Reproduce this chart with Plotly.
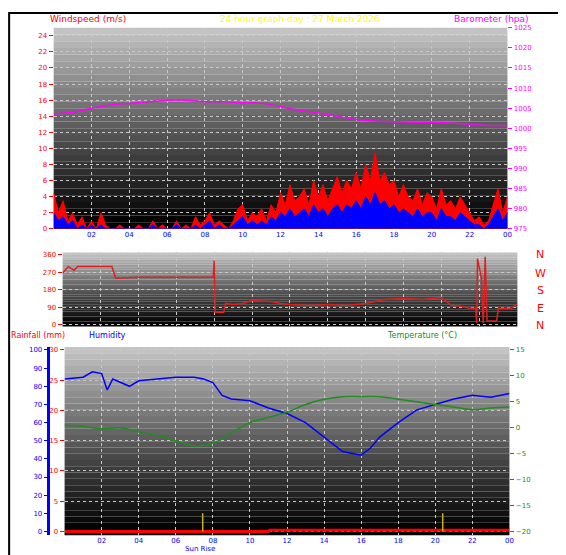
import plotly.graph_objects as go

W, H = 566, 555
def px(v): return v / W
def py(v): return 1 - v / H

hours_q = [i * 0.25 for i in range(97)]
gust = [4.5,2,3.5,1,2,0.5,1.5,0, 1,0,2,0.5,0,0,0.5,0, 0,0,0.5,0,0,1,0,0.5,
        0,0,1,0,0.5,0,1.5,0.5, 1,2,0.5,1,0.5,0,1,2.5, 3,1,2,1.5,2.5,1,3,2,
        4.5,3,5.5,3.5,4,5,3,6, 4,5.5,3.5,5,6.5,4.5,6,5, 7,5,8,6,9.5,6,7,5.5,
        6,4,5.5,4,3.5,5,3,4.5, 4,2.5,5,3,3.5,2.5,4,3, 2,1,1.5,0.5,1,3,5,2, 4]
avg = [2,1,1.5,0.5,1,0,0.5,0, 0.5,0,0.5,0,0,0,0,0, 0,0,0,0,0,0.5,0,0,
       0,0,0.5,0,0,0,0.5,0, 0.5,1,0,0.5,0,0,0.5,1, 1.5,0.5,1,0.5,1,0.5,1.5,1,
       2,1.5,2.5,1.5,2,2.5,1.5,3, 2,2.5,1.5,2.5,3,2,3,2.5, 3.5,2.5,4,3,4.5,3,3.5,2.5,
       3,2,2.5,2,1.5,2.5,1.5,2, 2,1,2.5,1.5,1.5,1,2,1.5, 1,0.5,0.5,0,0.5,1.5,2.5,1, 2]
hours_h = list(range(25))
baro = [1003.6,1004,1005,1005.8,1006.2,1006.6,1007,1007,1006.6,1006.6,1006.4,1006.2,1005.4,
        1004.5,1003.8,1003,1002.2,1001.8,1001.6,1001.5,1001.5,1001.3,1001,1000.7,1000.7]
dir_t = [0,0.3,0.6,0.8,2.6,2.8,4,7.95,8.0,8.05,8.5,8.6,9,9.5,10,11,11.5,12,13,14,15,16,17,18,19,20,20.5,21,21.5,21.8,21.85,21.9,22.1,22.2,22.3,22.4,22.9,23,23.7,24]
dir_v = [265,300,280,300,300,240,245,245,330,65,65,110,105,110,125,120,110,105,100,105,100,110,130,135,130,140,100,95,85,85,10,340,240,10,350,20,20,85,85,110]
hum_t = [0,1,1.5,2,2.3,2.6,3.5,4,5,6,7,7.5,8,8.5,9,10,11,12,13,14,15,16,16.5,17,18,19,20,21,22,23,24]
hum = [84,85,88,87,78,84,80,83,84,85,85,84,82,75,73,72,68,65,60,52,44,42,46,52,60,67,70,73,75,74,76]
temp = [0.5,0.3,-0.2,0,-0.8,-1.5,-2.5,-3.5,-3,-1,1,2,3,4.5,5.5,6,6,6,5.5,5,4.5,4,3.5,3.8,4]
rain_t = [0,11,11.05,24]
rain = [0,0,0.2,0.2]
sun_t = [7.45, 20.4]
tickv = list(range(2, 25, 2))
tickt = ["%02d" % (h % 24) for h in tickv]

fig = go.Figure()
fig.add_trace(go.Scatter(x=hours_q, y=gust, fill="tozeroy", mode="lines", line=dict(color="red", width=1), fillcolor="red", xaxis="x", yaxis="y"))
fig.add_trace(go.Scatter(x=hours_q, y=avg, fill="tozeroy", mode="lines", line=dict(color="blue", width=1), fillcolor="blue", xaxis="x", yaxis="y"))
fig.add_trace(go.Scatter(x=hours_h, y=baro, mode="lines", line=dict(color="#ff00ff", width=1.5, shape="spline"), xaxis="x", yaxis="y2"))
fig.add_trace(go.Scatter(x=dir_t, y=dir_v, mode="lines", line=dict(color="#e02020", width=1.5), xaxis="x2", yaxis="y3"))
fig.add_trace(go.Scatter(x=hum_t, y=hum, mode="lines", line=dict(color="blue", width=1.5), xaxis="x3", yaxis="y4"))
fig.add_trace(go.Scatter(x=hours_h, y=temp, mode="lines", line=dict(color="#228b22", width=1.5, shape="spline"), xaxis="x3", yaxis="y6"))
fig.add_trace(go.Scatter(x=rain_t, y=rain, mode="lines", line=dict(color="red", width=3), xaxis="x3", yaxis="y5"))
for s in sun_t:
    fig.add_trace(go.Scatter(x=[s, s], y=[0, 3], mode="lines", line=dict(color="#c8b400", width=1.5), xaxis="x3", yaxis="y5"))

grid = dict(showgrid=True, gridcolor="#c8c8c8", griddash="dot", gridwidth=1, zeroline=False)
tf = dict(family="DejaVu Sans", size=7)
lay = dict(
    width=W, height=H, margin=dict(l=0, r=0, t=0, b=0), paper_bgcolor="white", plot_bgcolor="rgba(0,0,0,0)",
    showlegend=False,
    xaxis=dict(domain=[px(46), px(503)], range=[0, 24], tickvals=tickv, ticktext=tickt, tickfont=dict(tf, color="blue"), anchor="y", ticks="", **grid),
    yaxis=dict(domain=[py(220), py(16)], range=[0, 25], dtick=2, tickfont=dict(tf, color="red"), ticks="outside", ticklen=4, tickcolor="red", **grid),
    yaxis2=dict(overlaying="y", side="right", range=[975, 1025], dtick=5, tickfont=dict(tf, color="#ff00ff"), ticks="outside", ticklen=4, tickcolor="#ff00ff", showgrid=False, zeroline=False, anchor="x"),
    xaxis2=dict(domain=[px(55), px(513)], range=[0, 24], dtick=2, showticklabels=False, anchor="y3", **grid),
    yaxis3=dict(domain=[py(319), py(244)], range=[-8, 372], tickvals=[0, 90, 180, 270, 360], tickfont=dict(tf, color="red"), ticks="outside", ticklen=4, tickcolor="red", anchor="x2", **grid),
    xaxis3=dict(domain=[px(57), px(505)], range=[0, 24], tickvals=tickv, ticktext=tickt, tickfont=dict(tf, color="blue"), anchor="y5", ticks="", **grid),
    yaxis4=dict(domain=[py(531), py(340)], range=[-2.15, 101.6], dtick=10, tickfont=dict(tf, color="blue"), ticks="outside", ticklen=3, tickcolor="blue",
                showline=True, linecolor="blue", linewidth=3, anchor="free", position=px(40), overlaying="y5", showgrid=False, zeroline=False),
    yaxis5=dict(domain=[py(531), py(340)], range=[-0.645, 30.48], dtick=5, tickfont=dict(tf, color="red"), ticks="outside", ticklen=4, tickcolor="red", anchor="x3", **grid),
    yaxis6=dict(overlaying="y5", side="right", anchor="x3", range=[-20.75, 15.56], dtick=5, tickfont=dict(tf, color="#228b22"), ticks="outside", ticklen=4, tickcolor="#228b22", showgrid=False, zeroline=False),
)
fig.update_layout(**lay)

shapes = []
N = 30
for xr, yr in [("x domain", "y domain"), ("x2 domain", "y3 domain"), ("x3 domain", "y5 domain")]:
    for i in range(N):
        c = int(195 * (1 - i / (N - 1)) ** 1.1)
        shapes.append(dict(type="rect", xref=xr, yref=yr, x0=0, x1=1, y0=1 - (i + 1) / N, y1=1 - i / N,
                           fillcolor="rgb(%d,%d,%d)" % (c, c, c), line=dict(width=0), layer="below"))
shapes.append(dict(type="rect", xref="paper", yref="paper", x0=0.002, x1=0.998, y0=0.002, y1=0.998, line=dict(color="black", width=2)))
fig.update_layout(shapes=shapes)

af = "DejaVu Sans"
ann = [
    dict(x=px(40), y=py(7), text="Windspeed (m/s)", color="red", xanchor="left", size=9),
    dict(x=px(294), y=py(7), text="24 hour graph day : 27 March 2026", color="yellow", xanchor="center", size=9),
    dict(x=px(527), y=py(7), text="Barometer (hpa)", color="#ff00ff", xanchor="right", size=9),
    dict(x=px(1), y=py(328), text="Rainfall (mm)", color="red", xanchor="left", size=8),
    dict(x=px(80), y=py(328), text="Humidity", color="blue", xanchor="left", size=8),
    dict(x=px(380), y=py(328), text="Temperature (°C)", color="#228b22", xanchor="left", size=8),
    dict(x=px(193), y=py(545), text="Sun Rise", color="blue", xanchor="center", size=7),
]
for n, (lbl, yy) in enumerate(zip("NWSEN", [246, 265, 283, 301, 318])):
    ann.append(dict(x=px(536), y=py(yy), text=lbl, color="red", xanchor="center", size=11))
fig.update_layout(annotations=[dict(xref="paper", yref="paper", x=a["x"], y=a["y"], text=a["text"], showarrow=False,
                                    xanchor=a["xanchor"], yanchor="middle", font=dict(family=af, size=a["size"], color=a["color"])) for a in ann])
fig.write_html("out.html")
